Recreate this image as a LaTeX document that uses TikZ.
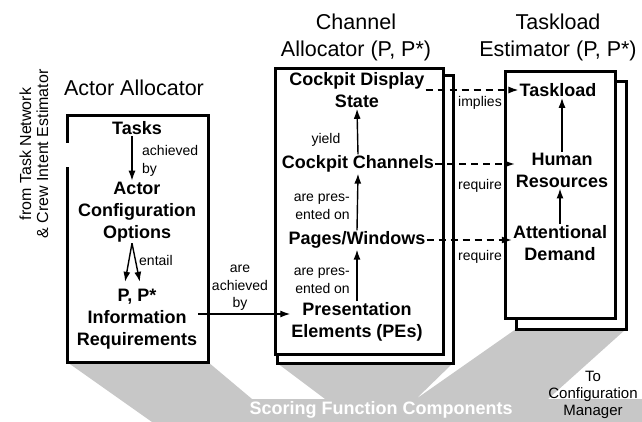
\documentclass[tikz,border=0pt]{standalone}
\usepackage{fontspec}
\setmainfont{Liberation Sans}
\usetikzlibrary{arrows.meta,positioning}

\begin{document}
\begin{tikzpicture}[x=1pt,y=-1pt,
    head/.style={font=\fontsize{21.5}{27}\selectfont,align=center,inner sep=0pt},
    item/.style={font=\fontsize{18}{22}\selectfont\bfseries,align=center,inner sep=1pt},
    lbl/.style={font=\fontsize{14}{17.5}\selectfont,inner sep=0pt},
    frame/.style={line width=3pt},
    arrow/.style={-{Latex[length=10pt,width=7pt]},line width=1.4pt},
    dasharrow/.style={arrow,dash pattern=on 7pt off 5pt},
    shade/.style={fill=black!22}
  ]
  \useasboundingbox (0,0) rectangle (642,422);
  \fill[shade] (67,362) -- (208,362) -- (252,399) -- (325,399) -- (277,363) -- (453,363)
    -- (416,399) -- (516,329) -- (626,329) -- (548,399) -- (642,399) -- (642,422)
    -- (152,422) -- cycle;
  \draw[frame] (67,143) -- (67,116) -- (208,116) -- (208,362) -- (67,362) -- (67,167);
  \draw[frame] (277,76) rectangle (453,363);
  \draw[frame,fill=white] (275,69) rectangle (443,354);
  \draw[frame] (516,82) rectangle (626,329);
  \draw[frame,fill=white] (505,72) rectangle (615,318);

  \node[head] (actorhd) at (134,88) {Actor Allocator};
  \node[head] (chanhd) at (356,37) {Channel\\Allocator (P, P*)};
  \node[head] (taskhd) at (558,37) {Taskload\\Estimator (P, P*)};
  \node[head,font=\fontsize{16}{17}\selectfont,rotate=90] (source) at (34,154)
    {from Task Network\\\& Crew Intent Estimator};

  \node[item] (tasks) at (137,128) {Tasks};
  \node[item] (actor) at (137,212) {Actor\\Configuration\\Options};
  \node[item] (info) at (137,319) {P, P*\\Information\\Requirements};
  \node[item] (cds) at (357,90) {Cockpit Display\\State};
  \node[item] (cch) at (358,164) {Cockpit Channels};
  \node[item] (pw) at (357,240) {Pages/Windows};
  \node[item] (pe) at (357,322) {Presentation\\Elements (PEs)};
  \node[item] (tl) at (558,90) {Taskload};
  \node[item] (hr) at (562,170) {Human\\Resources};
  \node[item] (ad) at (560,243) {Attentional\\Demand};

  \draw[arrow] ([xshift=-5pt]tasks.south) -- ([xshift=-5pt]actor.north);
  \draw[arrow,shorten >=6pt] ([xshift=-5pt]actor.south) -- ([xshift=-13pt]info.north);
  \draw[arrow,shorten >=6pt] ([xshift=-5pt]actor.south) -- ([xshift=4pt]info.north);
  \draw[arrow] ([yshift=5pt]info.east) -- ([yshift=8pt]pe.west);
  \draw[arrow] (cch.north) -- (cds.south);
  \draw[arrow] (pw.north) -- (cch.south);
  \draw[arrow] (pe.north) -- (pw.south);
  \draw[arrow] (hr.north) -- (hr.north |- tl.south);
  \draw[arrow] (ad.north) -- (ad.north |- hr.south);
  \draw[dasharrow] (cds.east) -- (tl.west);
  \draw[dasharrow] (cch.east) -- (cch.east -| hr.west);
  \draw[dasharrow] (pw.east) -- (pw.east -| ad.west);

  \node[lbl,align=left,anchor=west] (achby) at (142,161) {achieved\\by};
  \node[lbl,anchor=west] (entl) at (139,260) {entail};
  \node[lbl,align=center] (areach) at (240,288) {are\\achieved\\by};
  \node[lbl] (yld) at (326,140) {yield};
  \node[lbl,align=right,anchor=east] (pres1) at (350,207) {are pres-\\ented on};
  \node[lbl,align=right,anchor=east] (pres2) at (350,281) {are pres-\\ented on};
  \node[lbl] (impl) at (480,103) {implies};
  \node[lbl] (req1) at (480,186) {require};
  \node[lbl] (req2) at (480,257) {require};
  \node[lbl,font=\fontsize{15}{17}\selectfont,align=center] (tocm) at (593,395)
    {To\\Configuration\\Manager};
  \node[font=\fontsize{18}{18}\selectfont\bfseries,text=white] (sfc) at (381,410)
    {Scoring Function Components};
\end{tikzpicture}
\end{document}
